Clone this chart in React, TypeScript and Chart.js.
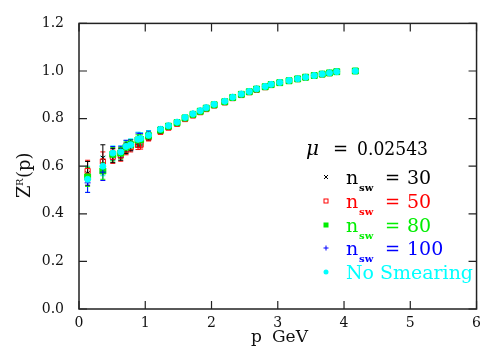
import React, { useEffect, useRef } from "react";
import { Chart, registerables } from "chart.js";

Chart.register(...registerables);

// Momenta (GeV) shared by every smearing level
const momenta = [
  0.13, 0.36, 0.51, 0.63, 0.71, 0.78, 0.89, 0.93, 1.05, 1.23, 1.35, 1.48, 1.6, 1.72, 1.83, 1.92, 2.04,
  2.2, 2.32, 2.45, 2.57, 2.68, 2.81, 2.9, 3.03, 3.17, 3.3, 3.42, 3.55, 3.67, 3.78, 3.89, 4.17,
];

// Renormalisation factor Z^R(p) for each number of smearing sweeps
const zSw30 = [
  0.57, 0.635, 0.645, 0.65, 0.675, 0.685, 0.7, 0.705, 0.725, 0.748, 0.765, 0.78, 0.8, 0.815, 0.828,
  0.842, 0.856, 0.87, 0.887, 0.9, 0.912, 0.922, 0.933, 0.942, 0.95, 0.958, 0.966, 0.973, 0.98, 0.986,
  0.991, 0.996, 1.0,
];
const zSw50 = [
  0.58, 0.62, 0.64, 0.645, 0.67, 0.68, 0.69, 0.69, 0.72, 0.745, 0.762, 0.778, 0.798, 0.813, 0.827,
  0.84, 0.855, 0.868, 0.886, 0.899, 0.911, 0.921, 0.932, 0.941, 0.95, 0.958, 0.966, 0.973, 0.98,
  0.986, 0.991, 0.996, 1.0,
];
const zSw80 = [
  0.555, 0.58, 0.65, 0.655, 0.68, 0.69, 0.71, 0.712, 0.728, 0.752, 0.768, 0.783, 0.803, 0.818,
  0.831, 0.844, 0.858, 0.871, 0.889, 0.902, 0.913, 0.924, 0.934, 0.943, 0.951, 0.959, 0.967, 0.974,
  0.981, 0.987, 0.992, 0.997, 1.0,
];
const zSw100 = [
  0.53, 0.575, 0.655, 0.66, 0.685, 0.69, 0.715, 0.718, 0.732, 0.755, 0.77, 0.786, 0.806, 0.821,
  0.834, 0.847, 0.861, 0.874, 0.891, 0.904, 0.915, 0.926, 0.936, 0.945, 0.953, 0.961, 0.968, 0.975,
  0.982, 0.988, 0.993, 0.998, 1.0,
];
const zNoSmear = [
  0.545, 0.6, 0.655, 0.66, 0.683, 0.69, 0.713, 0.716, 0.73, 0.755, 0.77, 0.785, 0.805, 0.82, 0.833,
  0.846, 0.86, 0.873, 0.89, 0.903, 0.914, 0.925, 0.935, 0.944, 0.952, 0.96, 0.967, 0.974, 0.981,
  0.987, 0.992, 0.997, 1.0,
];

// Statistical errors
const errSw30 = [
  0.05, 0.055, 0.03, 0.025, 0.022, 0.02, 0.02, 0.02, 0.015, 0.01, 0.008, 0.006, 0.005, 0.004, 0.004,
  0.003, 0.003, 0.003, 0.003, 0.002, 0.002, 0.002, 0.002, 0.002, 0.002, 0.002, 0.001, 0.001, 0.001,
  0.001, 0.001, 0.001, 0,
];
const errSw50 = [
  0.045, 0.04, 0.028, 0.024, 0.022, 0.02, 0.02, 0.018, 0.014, 0.01, 0.008, 0.006, 0.005, 0.004,
  0.004, 0.003, 0.003, 0.003, 0.003, 0.002, 0.002, 0.002, 0.002, 0.002, 0.002, 0.002, 0.001, 0.001,
  0.001, 0.001, 0.001, 0.001, 0,
];
const errSw80 = [
  0.04, 0.035, 0.028, 0.024, 0.022, 0.02, 0.022, 0.02, 0.015, 0.01, 0.008, 0.006, 0.005, 0.004,
  0.004, 0.003, 0.003, 0.003, 0.003, 0.002, 0.002, 0.002, 0.002, 0.002, 0.002, 0.002, 0.001, 0.001,
  0.001, 0.001, 0.001, 0.001, 0,
];
const errSw100 = [
  0.04, 0.035, 0.028, 0.024, 0.024, 0.022, 0.024, 0.02, 0.015, 0.01, 0.008, 0.006, 0.005, 0.004,
  0.004, 0.003, 0.003, 0.003, 0.003, 0.002, 0.002, 0.002, 0.002, 0.002, 0.002, 0.002, 0.001, 0.001,
  0.001, 0.001, 0.001, 0.001, 0,
];
const errNoSmear = [
  0.055, 0.04, 0.03, 0.025, 0.025, 0.025, 0.03, 0.025, 0.02, 0.012, 0.01, 0.008, 0.006, 0.005,
  0.005, 0.004, 0.004, 0.004, 0.003, 0.003, 0.003, 0.003, 0.002, 0.002, 0.002, 0.002, 0.002, 0.001,
  0.001, 0.001, 0.001, 0.001, 0,
];

const sweepLabels = ["30", "50", "80", "100"];
const muValue = "0.02543";
const xTicks = [0, 1, 2, 3, 4, 5, 6];
const yTicks = [0, 0.2, 0.4, 0.6, 0.8, 1.0, 1.2];

const BLACK = "#000000";
const RED = "#ff0000";
const GREEN = "#00ee00";
const BLUE = "#0000ff";
const CYAN = "#00ffff";
const SERIF = '"DejaVu Serif", "Liberation Serif", serif';

type Series = {
  name: string;
  z: number[];
  err: number[];
  color: string;
  pointStyle: string;
  radius: number;
  fill: string;
  order: number;
};

const series: Series[] = [
  { name: "nsw30", z: zSw30, err: errSw30, color: BLACK, pointStyle: "crossRot", radius: 3, fill: BLACK, order: 4 },
  { name: "nsw50", z: zSw50, err: errSw50, color: RED, pointStyle: "rect", radius: 3.6, fill: "rgba(0,0,0,0)", order: 3 },
  { name: "nsw80", z: zSw80, err: errSw80, color: GREEN, pointStyle: "rect", radius: 4.2, fill: GREEN, order: 2 },
  { name: "nsw100", z: zSw100, err: errSw100, color: BLUE, pointStyle: "cross", radius: 3, fill: BLUE, order: 1 },
  { name: "noSmear", z: zNoSmear, err: errNoSmear, color: CYAN, pointStyle: "circle", radius: 3, fill: CYAN, order: 0 },
];

function drawMarker(ctx: CanvasRenderingContext2D, kind: number, x: number, y: number) {
  ctx.save();
  ctx.lineWidth = 1;
  if (kind === 0) {
    ctx.strokeStyle = BLACK;
    ctx.beginPath();
    ctx.moveTo(x - 2, y - 2);
    ctx.lineTo(x + 2, y + 2);
    ctx.moveTo(x + 2, y - 2);
    ctx.lineTo(x - 2, y + 2);
    ctx.stroke();
  } else if (kind === 1) {
    ctx.strokeStyle = RED;
    ctx.strokeRect(x - 2, y - 2, 4, 4);
  } else if (kind === 2) {
    ctx.fillStyle = GREEN;
    ctx.fillRect(x - 2.5, y - 2.5, 5, 5);
  } else if (kind === 3) {
    ctx.strokeStyle = BLUE;
    ctx.beginPath();
    ctx.moveTo(x - 2.5, y);
    ctx.lineTo(x + 2.5, y);
    ctx.moveTo(x, y - 2.5);
    ctx.lineTo(x, y + 2.5);
    ctx.stroke();
  } else {
    ctx.fillStyle = CYAN;
    ctx.beginPath();
    ctx.arc(x, y, 2.5, 0, Math.PI * 2);
    ctx.fill();
  }
  ctx.restore();
}

const decorations = {
  id: "decorations",
  beforeDatasetsDraw(chart: any) {
    const { ctx, scales } = chart;
    const xs = scales.x;
    const ys = scales.y;
    ctx.save();
    ctx.lineWidth = 1;
    [...series].reverse().forEach((s) => {
      ctx.strokeStyle = s.color;
      momenta.forEach((p, i) => {
        const e = s.err[i];
        if (!e) return;
        const px = xs.getPixelForValue(p);
        const y1 = ys.getPixelForValue(s.z[i] + e);
        const y2 = ys.getPixelForValue(s.z[i] - e);
        ctx.beginPath();
        ctx.moveTo(px, y1);
        ctx.lineTo(px, y2);
        ctx.moveTo(px - 2.5, y1);
        ctx.lineTo(px + 2.5, y1);
        ctx.moveTo(px - 2.5, y2);
        ctx.lineTo(px + 2.5, y2);
        ctx.stroke();
      });
    });
    ctx.restore();
  },
  afterDraw(chart: any) {
    const { ctx, chartArea, scales } = chart;
    const { left, right, top, bottom } = chartArea;
    const xs = scales.x;
    const ys = scales.y;
    ctx.save();

    // frame with inward ticks
    ctx.strokeStyle = "#222";
    ctx.lineWidth = 1.5;
    ctx.strokeRect(left, top, right - left, bottom - top);
    ctx.lineWidth = 1.2;
    ctx.beginPath();
    xTicks.forEach((v) => {
      const px = xs.getPixelForValue(v);
      ctx.moveTo(px, bottom);
      ctx.lineTo(px, bottom - 8);
      ctx.moveTo(px, top);
      ctx.lineTo(px, top + 8);
    });
    yTicks.forEach((v) => {
      const py = ys.getPixelForValue(v);
      ctx.moveTo(left, py);
      ctx.lineTo(left + 8, py);
      ctx.moveTo(right, py);
      ctx.lineTo(right - 8, py);
    });
    ctx.stroke();

    // axis titles
    ctx.fillStyle = "#111";
    ctx.textBaseline = "alphabetic";
    ctx.textAlign = "left";
    ctx.font = `17px ${SERIF}`;
    ctx.fillText("p", 251, 342);
    ctx.fillText("GeV", 272, 342);

    ctx.save();
    ctx.translate(30, 198);
    ctx.rotate(-Math.PI / 2);
    ctx.font = `18px ${SERIF}`;
    ctx.fillText("Z", 0, 0);
    ctx.font = `10px ${SERIF}`;
    ctx.fillText("R", 12, -7);
    ctx.font = `18px ${SERIF}`;
    ctx.fillText("(p)", 20, 0);
    ctx.restore();

    // legend
    ctx.fillStyle = BLACK;
    ctx.font = `italic 20px ${SERIF}`;
    ctx.fillText("\u03bc", 306, 155);
    ctx.font = `18px ${SERIF}`;
    ctx.fillText("=", 333, 155);
    ctx.fillText(muValue, 357, 155, 71);

    const rowColors = [BLACK, RED, GREEN, BLUE];
    const markerY = [177, 201, 225, 248];
    sweepLabels.forEach((lab, i) => {
      const my = markerY[i];
      const base = my + 7;
      drawMarker(ctx, i, 326, my);
      ctx.fillStyle = rowColors[i];
      ctx.font = `19px ${SERIF}`;
      ctx.fillText("n", 346, base);
      ctx.font = `bold 10px ${SERIF}`;
      ctx.fillText("sw", 359, base + 7);
      ctx.font = `18px ${SERIF}`;
      ctx.fillText("=", 385, base);
      ctx.font = `19px ${SERIF}`;
      ctx.fillText(lab, 407, base);
    });
    drawMarker(ctx, 4, 326, 272);
    ctx.fillStyle = CYAN;
    ctx.font = `19px ${SERIF}`;
    ctx.fillText("No Smearing", 346, 279, 127);

    ctx.restore();
  },
};

export default function App() {
  const canvasRef = useRef<HTMLCanvasElement | null>(null);

  useEffect(() => {
    const canvas = canvasRef.current;
    if (!canvas) return;
    const chart = new Chart(canvas, {
      type: "scatter",
      data: {
        datasets: series.map((s) => ({
          label: s.name,
          data: momenta.map((p, i) => ({ x: p, y: s.z[i] })),
          pointStyle: s.pointStyle as any,
          pointRadius: s.radius,
          pointBorderWidth: 1,
          borderColor: s.color,
          backgroundColor: s.fill,
          order: s.order,
          showLine: false,
        })),
      },
      options: {
        responsive: false,
        animation: false,
        layout: { padding: { top: 15, right: 5, left: 0, bottom: 0 } },
        plugins: { legend: { display: false }, tooltip: { enabled: false } },
        scales: {
          x: {
            type: "linear",
            min: 0,
            max: 6,
            afterBuildTicks: (s: any) => {
              s.ticks = xTicks.map((v) => ({ value: v }));
            },
            ticks: {
              font: { family: SERIF, size: 14 },
              color: "#111",
              padding: 6,
              maxRotation: 0,
              callback: (v: any) => String(v),
            },
            grid: { display: false, drawTicks: false },
            border: { display: false },
            afterFit: (s: any) => {
              s.height = 53;
            },
          },
          y: {
            type: "linear",
            min: 0,
            max: 1.2,
            afterBuildTicks: (s: any) => {
              s.ticks = yTicks.map((v) => ({ value: v }));
            },
            ticks: {
              font: { family: SERIF, size: 14 },
              color: "#111",
              padding: 15,
              callback: (v: any) => Number(v).toFixed(1),
            },
            grid: { display: false, drawTicks: false },
            border: { display: false },
            afterFit: (s: any) => {
              s.width = 79;
            },
          },
        },
      },
      plugins: [decorations],
    });
    return () => chart.destroy();
  }, []);

  return (
    <div style={{ position: "fixed", left: 0, top: 0, width: 487, height: 362, background: "#fff" }}>
      <canvas ref={canvasRef} width={487} height={362} style={{ display: "block" }} />
    </div>
  );
}
